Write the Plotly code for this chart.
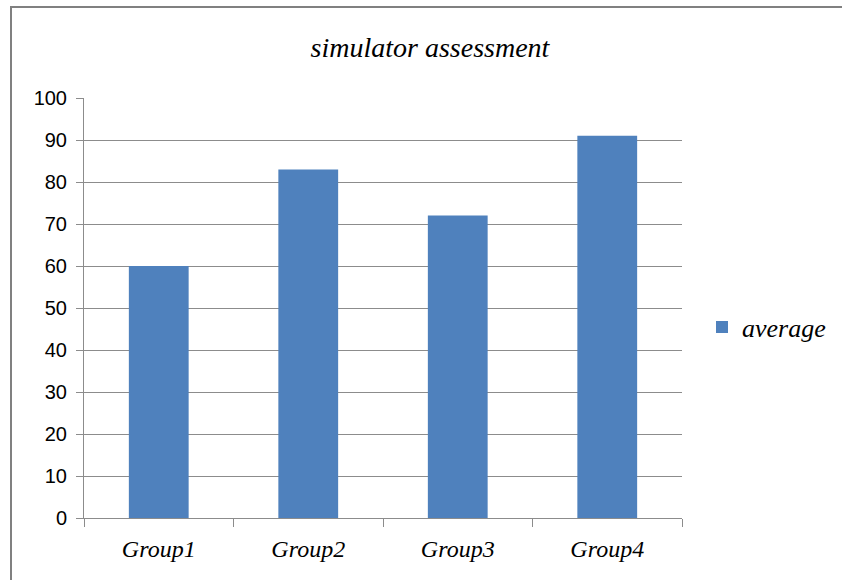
import plotly.graph_objects as go

categories = ["Group1", "Group2", "Group3", "Group4"]
average = [60, 83, 72, 91]
series_name = "average"
title_text = "simulator assessment"

W, H = 842, 580
L, R, T, B = 84, 160, 98, 62
pw, ph = W - L - R, H - T - B

def px(x):
    return (x - L) / pw

def py(y):
    return (H - B - y) / ph

fig = go.Figure()
fig.add_trace(go.Bar(
    x=categories, y=average, name=series_name,
    marker=dict(color="#4F81BD", line=dict(width=0)),
    showlegend=True,
))

grid = "#8C8C8C"
fig.update_layout(
    width=W, height=H,
    margin=dict(l=L, r=R, t=T, b=B, autoexpand=False),
    paper_bgcolor="white", plot_bgcolor="white",
    bargap=0.6,
    title=dict(text=title_text, xref="container", x=430 / W, xanchor="center",
               yref="container", y=1 - 47 / H, yanchor="middle",
               font=dict(family="Liberation Serif", size=28, color="black", style="italic")),
    legend=dict(x=px(702), xanchor="left", y=py(327), yanchor="middle",
                font=dict(family="Liberation Serif", size=26, color="black", style="italic"),
                bgcolor="rgba(0,0,0,0)", itemwidth=30),
    xaxis=dict(showline=True, linecolor=grid, linewidth=1, ticks="outside", tickson="boundaries",
               ticklen=8, tickcolor=grid, ticklabelstandoff=9,
               tickfont=dict(family="Liberation Serif", size=24, color="black", style="italic"),
               showgrid=False),
    yaxis=dict(range=[0, 100], dtick=10, showline=True, linecolor=grid, linewidth=1,
               ticks="outside", ticklen=7, tickcolor=grid, showgrid=True, gridcolor=grid,
               gridwidth=1, zeroline=False, ticklabelstandoff=5,
               tickfont=dict(family="Liberation Sans", size=20, color="black")),
    shapes=[
        dict(type="line", xref="paper", yref="paper", x0=px(11), x1=px(11), y0=py(585), y1=py(7),
             line=dict(color="#808080", width=2)),
        dict(type="line", xref="paper", yref="paper", x0=px(10), x1=px(850), y0=py(7), y1=py(7),
             line=dict(color="#808080", width=2)),
    ],
)

fig.write_html("out.html", config={"displayModeBar": False},
               post_script="document.body.style.margin='0';document.body.style.overflow='hidden';")
